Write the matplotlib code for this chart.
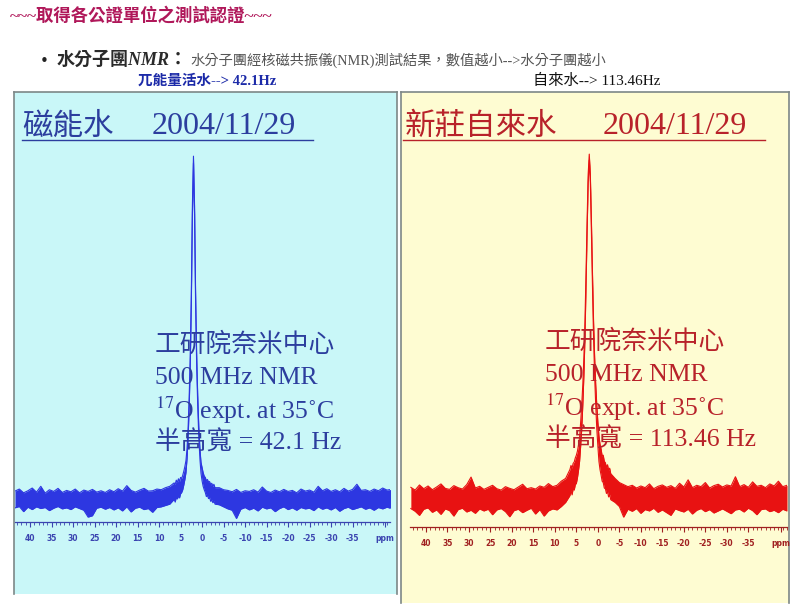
import numpy as np
import matplotlib.pyplot as plt
from matplotlib.lines import Line2D
from matplotlib.ticker import MultipleLocator

plt.rcParams['mathtext.fontset'] = 'stix'
SERIF_CJK = ['Liberation Serif', 'Noto Sans CJK TC']
CJK = ['Noto Sans CJK TC', 'Liberation Serif']

# chemical shift grid (ppm), finer around the peak
ppm = np.concatenate([np.arange(43.5, 7.0, -1.0),
                      np.arange(6.5, -3.01, -0.25),
                      np.arange(-4.0, -44.5, -1.0)])

# ---- 磁能水 spectrum (noise band upper / lower edge, peak = 100)
mag_up_far_l = [2.6, 3.2, 2.1, 2.7, 3.5, 2.3, 4.0, 2.0, 3.0, 2.5, 3.4, 2.2, 2.8, 2.4, 3.2, 2.1, 2.9, 2.5, 3.1,
                2.3, 2.7, 2.2, 3.0, 2.4, 3.3, 2.6, 4.2, 2.8, 2.3, 2.9, 3.4, 2.6, 2.7, 3.2, 3.0, 3.6, 4.0]
mag_lo_far_l = [-2.3, -1.9, -3.4, -2.1, -2.8, -2.0, -2.5, -2.2, -3.1, -2.4, -1.9, -2.6, -2.3, -2.8, -2.0, -2.5,
                -3.0, -5.0, -4.6, -2.4, -2.1, -2.7, -2.2, -2.9, -2.3, -3.2, -2.0, -3.5, -2.4, -2.1, -2.8, -2.5,
                -3.6, -2.2, -2.0, -1.6, -1.2]
mag_up_peak = [5.0, 4.6, 5.8, 5.1, 6.2, 5.4, 6.6, 6.3, 7.2, 8.4, 9.8, 11.5, 15.0, 21.0, 30.0, 42.0, 60.0, 86.0,
               100.5, 86.0, 60.0, 42.0, 30.0, 21.0, 15.0, 11.0, 9.5, 8.0, 7.0, 6.6, 5.6, 6.0, 5.2, 5.4, 4.4,
               4.9, 4.0, 4.6, 3.6]
mag_lo_peak = [0.2, -0.6, 0.8, 0.3, 1.2, 0.6, 1.8, 2.2, 3.0, 4.4, 6.0, 8.0, 12.0, 18.0, 27.0, 39.0, 57.0, 83.0,
               98.5, 83.0, 57.0, 39.0, 27.0, 18.0, 12.0, 7.8, 5.6, 4.0, 3.0, 2.2, 1.0, 1.4, 0.4, 0.8, -0.4,
               0.2, -0.8, -0.2, -1.2]
mag_up_far_r = [3.6, 3.0, 2.8, 2.4, 3.1, 2.2, 2.7, 2.5, 3.0, 2.3, 3.8, 2.6, 2.2, 2.9, 2.4, 3.1, 2.5, 2.8, 2.1,
                3.2, 2.6, 2.9, 2.3, 4.0, 2.7, 3.3, 2.5, 3.0, 2.4, 3.4, 2.6, 3.1, 4.6, 2.8, 3.0, 2.5, 3.2, 2.7,
                3.5, 2.9, 3.1]
mag_lo_far_r = [-1.4, -2.0, -2.6, -3.0, -5.4, -2.7, -2.2, -2.9, -2.4, -3.2, -2.1, -2.6, -2.3, -3.4, -2.5, -2.0,
                -2.8, -2.3, -3.0, -2.2, -2.6, -2.4, -3.1, -2.0, -2.7, -2.3, -2.9, -2.2, -3.3, -2.5, -2.1, -2.8,
                -2.4, -2.0, -2.7, -2.3, -3.0, -2.2, -2.6, -2.1, -2.5]

# ---- 新莊自來水 spectrum
tap_up_far_l = [3.4, 2.6, 4.1, 3.0, 3.8, 2.7, 3.5, 4.4, 3.1, 2.8, 3.9, 3.3, 2.9, 4.2, 6.4, 3.2, 3.7, 2.8, 3.4,
                4.0, 3.0, 2.6, 3.6, 3.1, 2.7, 3.5, 4.3, 3.0, 3.3, 2.9, 3.8, 3.4, 4.5, 3.6, 4.0, 5.2, 6.0]
tap_lo_far_l = [-2.8, -3.6, -4.8, -3.0, -2.6, -3.9, -3.2, -4.5, -2.9, -3.4, -5.0, -3.1, -2.7, -3.8, -3.3, -4.2,
                -2.9, -3.5, -3.0, -4.6, -3.2, -2.8, -3.7, -5.2, -3.4, -3.0, -4.0, -3.3, -2.7, -4.4, -3.1, -5.0,
                -3.5, -2.9, -3.2, -2.2, -1.0]
tap_up_peak = [8.6, 9.8, 9.0, 10.4, 10.8, 12.0, 12.8, 14.0, 15.8, 18.0, 22.5, 27.5, 33.5, 41.5, 52.0, 66.0, 81.5,
               95.0, 100.8, 95.0, 81.5, 66.0, 52.0, 41.5, 33.5, 27.5, 22.5, 18.5, 16.0, 14.6, 12.6, 12.8, 11.0,
               10.6, 9.2, 10.0, 8.4, 9.0, 7.4]
tap_lo_peak = [1.0, 2.4, 1.2, 3.0, 2.6, 4.2, 4.6, 6.2, 8.4, 11.0, 15.5, 20.5, 27.5, 36.0, 47.0, 62.0, 78.0, 92.5,
               99.0, 92.5, 78.0, 62.0, 47.0, 36.0, 27.5, 20.5, 15.5, 11.0, 8.6, 7.0, 5.2, 4.8, 3.2, 3.0, 1.6,
               2.2, 0.6, 1.4, -0.2]
tap_up_far_r = [6.0, 4.8, 4.2, 3.6, 4.0, 3.2, 3.8, 3.3, 4.4, 3.0, 3.7, 4.1, 3.4, 3.9, 3.1, 4.6, 3.5, 5.6, 3.3,
                4.0, 3.6, 4.8, 3.2, 3.9, 4.3, 3.5, 4.1, 3.8, 6.5, 3.6, 4.2, 3.4, 5.0, 3.7, 4.0, 3.3, 4.4, 3.8,
                5.2, 3.6, 4.0]
tap_lo_far_r = [-1.0, -2.2, -5.3, -3.0, -3.6, -2.8, -4.2, -3.1, -3.5, -2.7, -3.9, -3.2, -4.0, -4.8, -2.9, -3.4,
                -3.8, -3.0, -4.4, -3.3, -2.8, -3.7, -3.1, -4.1, -3.5, -2.9, -3.6, -4.3, -3.2, -3.0, -3.8, -2.7,
                -3.4, -4.6, -3.1, -2.9, -3.7, -3.3, -4.0, -3.0, -3.5]

mag_upper = mag_up_far_l + mag_up_peak + mag_up_far_r
mag_lower = mag_lo_far_l + mag_lo_peak + mag_lo_far_r
tap_upper = tap_up_far_l + tap_up_peak + tap_up_far_r
tap_lower = tap_lo_far_l + tap_lo_peak + tap_lo_far_r

tick_pos = [40, 35, 30, 25, 20, 15, 10, 5, 0, -5, -10, -15, -20, -25, -30, -35, -42.5]
tick_lab = ['40', '35', '30', '25', '20', '15', '10', '5', '0', '-5', '-10', '-15', '-20', '-25', '-30', '-35', 'ppm']

titles = ['磁能水', '新莊自來水']
date = '2004/11/29'
widths = ['42.1 Hz', '113.46 Hz']

W, H = 800, 607


def fx(x):
    return x / W


def fy(y):
    return 1 - y / H


fig = plt.figure(figsize=(8, 6.07), dpi=100)
fig.patch.set_facecolor('white')

# header
fig.text(fx(10), fy(16), '~~~取得各公證單位之測試認證~~~', color='#b0185a', fontsize=12.5,
         fontweight='bold', family=SERIF_CJK, va='center')
fig.text(fx(40), fy(61), '•', fontsize=11, color='#222222', va='center')
fig.text(fx(57), fy(60), '水分子團NMR：', fontsize=13, fontweight='bold', style='italic',
         family=SERIF_CJK, color='#2a2a2a', va='center')
fig.text(fx(190), fy(60), '水分子團經核磁共振儀(NMR)測試結果，數值越小-->水分子團越小', fontsize=10.3,
         family=SERIF_CJK, color='#555555', va='center')
fig.text(fx(207), fy(81), '兀能量活水--> 42.1Hz', fontsize=10.5, fontweight='bold',
         family=SERIF_CJK, color='#1c2aa8', va='center', ha='center')
fig.text(fx(597), fy(81), '自來水--> 113.46Hz', fontsize=11, family=SERIF_CJK,
         color='#111111', va='center', ha='center')

panels = [
    dict(bg=(14, 92, 397, 594), bgc='#c9f7f8', spec=(15, 390, 522), ylim=(-6.43, 102.3), xlim=(43.5, -43.7),
         line='#2d37e1', text='#2c3e9e', axis='#3a44b0', upper=mag_upper, lower=mag_lower,
         title_x=22, date_x=152, ul=(22, 313), text_x=155, text_y=[345, 378, 410, 443]),
    dict(bg=(401, 92, 789, 603), bgc='#fefcd2', spec=(410, 787, 527), ylim=(-8.19, 102.0), xlim=(43.7, -44.0),
         line='#e81212', text='#b8222a', axis='#a02020', upper=tap_upper, lower=tap_lower,
         title_x=405, date_x=603, ul=(403, 765), text_x=545, text_y=[342, 375, 407, 440]),
]

for i, p in enumerate(panels):
    x0, y0, x1, y1 = p['bg']
    bg = fig.add_axes([fx(x0), fy(y1), (x1 - x0) / W, (y1 - y0) / H])
    bg.set_facecolor(p['bgc'])
    bg.set_xticks([])
    bg.set_yticks([])
    for s in bg.spines.values():
        s.set_color('#7d8787')
        s.set_linewidth(1.2)
    bg.spines['bottom'].set_visible(False)

    sx0, sx1, sb = p['spec']
    ax = fig.add_axes([fx(sx0), fy(sb), (sx1 - sx0) / W, (sb - 150) / H])
    ax.set_facecolor('none')
    ax.fill_between(ppm, p['lower'], p['upper'], color=p['line'], lw=0)
    ax.plot(ppm, p['upper'], color=p['line'], lw=0.8)
    ax.plot(ppm, p['lower'], color=p['line'], lw=0.8)
    ax.set_xlim(*p['xlim'])
    ax.set_ylim(*p['ylim'])
    for side in ['top', 'left', 'right']:
        ax.spines[side].set_visible(False)
    ax.spines['bottom'].set_color(p['axis'])
    ax.spines['bottom'].set_linewidth(0.9)
    ax.set_yticks([])
    ax.set_xticks(tick_pos)
    ax.set_xticklabels(tick_lab, fontsize=5.5, fontweight='bold', family='DejaVu Sans')
    ax.xaxis.set_minor_locator(MultipleLocator(1))
    ax.tick_params(axis='x', which='major', length=3.5, width=0.8, colors=p['axis'], pad=5)
    ax.tick_params(axis='x', which='minor', length=2, width=0.6, colors=p['axis'])

    # panel title with underline
    fig.text(fx(p['title_x']), fy(126), titles[i], fontsize=22, family=CJK, color=p['text'], va='center')
    fig.text(fx(p['date_x']), fy(126), date, fontsize=23, family='Liberation Serif', color=p['text'],
             va='center')
    fig.add_artist(Line2D([fx(p['ul'][0]), fx(p['ul'][1])], [fy(140), fy(140)], color=p['text'], lw=1))

    lines = ['工研院奈米中心', '500 MHz NMR', '$^{17}$O expt. at 35˚C', '半高寬 = ' + widths[i]]
    for t, yy in zip(lines, p['text_y']):
        fig.text(fx(p['text_x']), fy(yy), t, fontsize=18.5, family=SERIF_CJK, color=p['text'], va='center')

fig.savefig('out.png', dpi=100)
